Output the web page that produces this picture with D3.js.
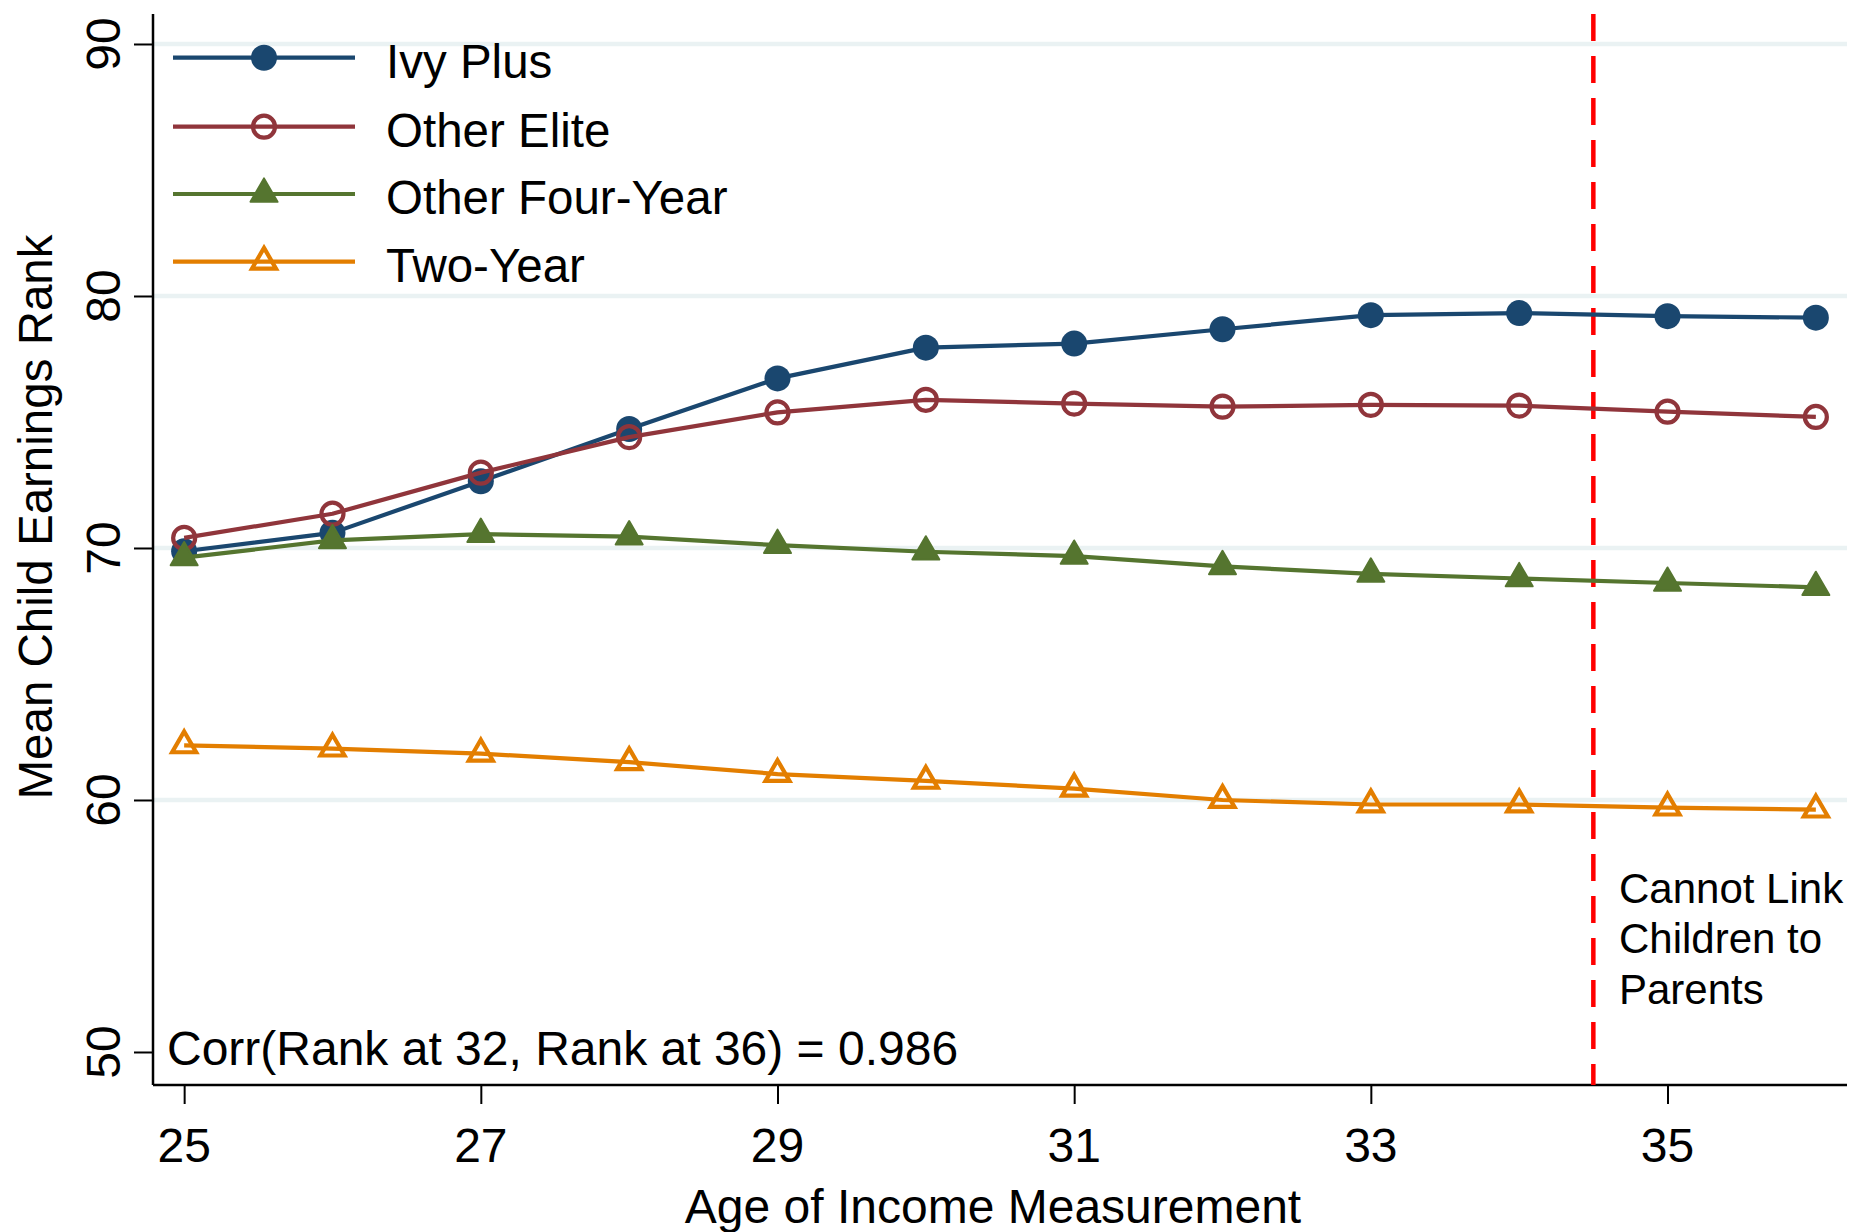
<!DOCTYPE html>
<html>
<head>
<meta charset="utf-8">
<script src="https://cdn.jsdelivr.net/npm/d3@7"></script>
<style>
  html, body { margin: 0; padding: 0; background: #fff; }
  svg { display: block; }
  text { font-family: "Liberation Sans", Arial, sans-serif; fill: #000; }
</style>
</head>
<body>
<script>
const ages = [25, 26, 27, 28, 29, 30, 31, 32, 33, 34, 35, 36];
const seriesNames = ["Ivy Plus", "Other Elite", "Other Four-Year", "Two-Year"];
const ivyPlus      = [69.87, 70.60, 72.65, 74.72, 76.73, 77.95, 78.11, 78.68, 79.24, 79.32, 79.20, 79.14];
const otherElite   = [70.40, 71.36, 72.99, 74.40, 75.38, 75.88, 75.73, 75.61, 75.68, 75.65, 75.41, 75.20];
const otherFour    = [69.62, 70.30, 70.55, 70.45, 70.11, 69.85, 69.68, 69.27, 68.97, 68.79, 68.61, 68.44];
const twoYear      = [62.17, 62.04, 61.84, 61.50, 61.03, 60.76, 60.45, 60.00, 59.82, 59.82, 59.70, 59.62];
const xTicks = [25, 27, 29, 31, 33, 35];
const yTicks = [50, 60, 70, 80, 90];
const gridTicks = [60, 70, 80, 90];
const cutoffAge = 34.5;
const corrText = "Corr(Rank at 32, Rank at 36) = 0.986";
const noteLines = ["Cannot Link", "Children to", "Parents"];
const xTitle = "Age of Income Measurement";
const yTitle = "Mean Child Earnings Rank";

const colors = ["#1a476f", "#90353b", "#55752f", "#e37e00"];
const symbols = ["circleFilled", "circleHollow", "triFilled", "triHollow"];
const values = [ivyPlus, otherElite, otherFour, twoYear];

const W = 1854, H = 1232;
const svg = d3.select("body").append("svg").attr("width", W).attr("height", H);

const x = d3.scaleLinear().domain([24.79, 36.21]).range([153, 1847]);
const y = d3.scaleLinear().domain([48.69, 91.19]).range([1085, 14]);

// gridlines
svg.append("g").selectAll("line").data(gridTicks).join("line")
  .attr("x1", x.range()[0]).attr("x2", x.range()[1])
  .attr("y1", d => y(d)).attr("y2", d => y(d))
  .attr("stroke", "#eaf2f3").attr("stroke-width", 4.5);

// axes
const yAxis = d3.axisLeft(y).tickValues(yTicks).tickSize(19).tickFormat("");
const gy = svg.append("g").attr("transform", `translate(${x.range()[0]},0)`).call(yAxis);
gy.select(".domain").attr("stroke", "#000").attr("stroke-width", 2.5).attr("d", `M0,${y.range()[1]}V${y.range()[0]}`);
gy.selectAll(".tick line").attr("stroke", "#000").attr("stroke-width", 2);

const xAxis = d3.axisBottom(x).tickValues(xTicks).tickSize(19).tickFormat("");
const gx = svg.append("g").attr("transform", `translate(0,${y.range()[0]})`).call(xAxis);
gx.select(".domain").attr("stroke", "#000").attr("stroke-width", 2.5).attr("d", `M${x.range()[0]},0H${x.range()[1]}`);
gx.selectAll(".tick line").attr("stroke", "#000").attr("stroke-width", 2);

// tick labels
svg.append("g").selectAll("text").data(yTicks).join("text")
  .attr("transform", d => `translate(120,${y(d)}) rotate(-90)`)
  .attr("text-anchor", "middle").attr("font-size", 48).text(d => d);
svg.append("g").selectAll("text").data(xTicks).join("text")
  .attr("x", d => x(d)).attr("y", 1162)
  .attr("text-anchor", "middle").attr("font-size", 48).text(d => d);

// axis titles
svg.append("text").attr("transform", "translate(52,517) rotate(-90)")
  .attr("text-anchor", "middle").attr("font-size", 47.5).text(yTitle);
svg.append("text").attr("x", 993).attr("y", 1223)
  .attr("text-anchor", "middle").attr("font-size", 48).text(xTitle);

// cutoff line
svg.append("line")
  .attr("x1", x(cutoffAge)).attr("x2", x(cutoffAge))
  .attr("y1", y.range()[1]).attr("y2", y.range()[0])
  .attr("stroke", "#ff0000").attr("stroke-width", 4.5)
  .attr("stroke-dasharray", "27,15");

// marker drawing
function drawMarker(g, type, color, cx, cy) {
  const tri = (s) => {
    const h = s * Math.sqrt(3) / 2;
    return `M${cx},${cy - 2 * h / 3}L${cx + s / 2},${cy + h / 3}L${cx - s / 2},${cy + h / 3}Z`;
  };
  if (type === "circleFilled") {
    g.append("circle").attr("cx", cx).attr("cy", cy).attr("r", 13).attr("fill", color);
  } else if (type === "circleHollow") {
    g.append("circle").attr("cx", cx).attr("cy", cy).attr("r", 11)
      .attr("fill", "none").attr("stroke", color).attr("stroke-width", 4.2);
  } else if (type === "triFilled") {
    g.append("path").attr("d", tri(27)).attr("fill", color)
      .attr("stroke", color).attr("stroke-width", 2).attr("stroke-linejoin", "round");
  } else {
    g.append("path").attr("d", tri(24)).attr("fill", "none")
      .attr("stroke", color).attr("stroke-width", 4.2).attr("stroke-linejoin", "miter");
  }
}

// series
const line = d3.line().x(d => x(d[0])).y(d => y(d[1]));
values.forEach((vals, i) => {
  const g = svg.append("g");
  const pts = ages.map((a, j) => [a, vals[j]]);
  g.append("path").attr("d", line(pts)).attr("fill", "none")
    .attr("stroke", colors[i]).attr("stroke-width", 4.2).attr("stroke-linejoin", "round");
  pts.forEach(p => drawMarker(g, symbols[i], colors[i], x(p[0]), y(p[1])));
});

// legend
const legendRows = [57.7, 126.7, 194, 261.7];
seriesNames.forEach((name, i) => {
  const g = svg.append("g");
  const ry = legendRows[i];
  g.append("line").attr("x1", 173).attr("x2", 355).attr("y1", ry).attr("y2", ry)
    .attr("stroke", colors[i]).attr("stroke-width", 4.2);
  drawMarker(g, symbols[i], colors[i], 264, ry);
  g.append("text").attr("x", 386).attr("y", ry + 20).attr("font-size", 47.5).text(name);
});

// annotations
svg.append("text").attr("x", 167).attr("y", 1065).attr("font-size", 48).text(corrText);
const noteBase = [903, 953, 1004];
svg.append("g").selectAll("text").data(noteLines).join("text")
  .attr("x", 1619).attr("y", (d, i) => noteBase[i]).attr("font-size", 42).text(d => d);
</script>
</body>
</html>
